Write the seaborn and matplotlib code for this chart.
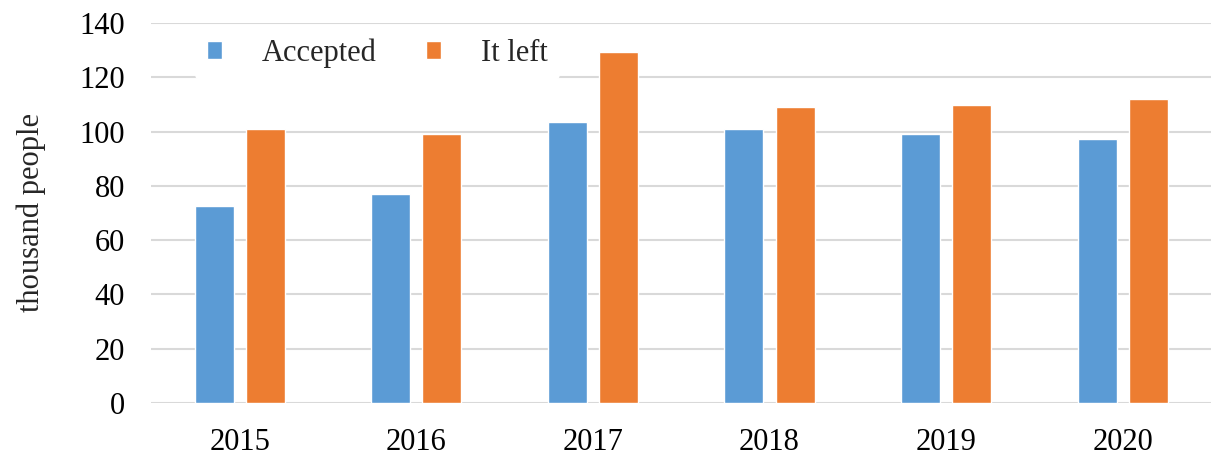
import pandas as pd
import matplotlib
matplotlib.use('Agg')
import matplotlib.pyplot as plt
import seaborn as sns

# Данные
years = ['2015', '2016', '2017', '2018', '2019', '2020']
accepted = [72.4, 77.1, 103.7, 101.1, 99.1, 97.2]
it_left = [101.1, 99.1, 129.2, 109.2, 109.8, 111.9]
series_names = ['Accepted', 'It left']
yticks = [0, 20, 40, 60, 80, 100, 120, 140]

df = pd.DataFrame({
    'year': years * 2,
    'value': accepted + it_left,
    'series': [series_names[0]] * len(years) + [series_names[1]] * len(years),
})

sns.set_theme(style='white')
plt.rcParams['font.family'] = ['Liberation Serif', 'DejaVu Serif']

fig = plt.figure(figsize=(12.11, 4.61), dpi=100)
ax = fig.add_axes([0.125, 0.126, 0.875, 0.824])

sns.barplot(data=df, x='year', y='value', hue='series',
            palette=['#5B9BD5', '#ED7D31'], width=0.58, gap=0.24,
            saturation=1, ax=ax)

ax.set_ylim(0, 140)
ax.set_yticks(yticks)
ax.yaxis.grid(True, color='#d9d9d9', linewidth=1.5)
ax.set_axisbelow(True)
for s in ax.spines.values():
    s.set_visible(False)
ax.tick_params(axis='both', length=0, labelsize=22, colors='black')
ax.tick_params(axis='y', pad=19)
ax.tick_params(axis='x', pad=18)
ax.set_xlabel('')
ax.set_ylabel('thousand people', fontsize=22, labelpad=24)

# легенда без рамки, сверху слева
leg = ax.legend(loc='upper left', bbox_to_anchor=(0.038, 1.0), ncol=2,
                frameon=True, facecolor='white', edgecolor='none',
                framealpha=1, fontsize=22, handlelength=0.5, handleheight=0.5,
                columnspacing=1.6, handletextpad=1.3, borderaxespad=0.1)

plt.savefig('out.png', dpi=100)
plt.close()
